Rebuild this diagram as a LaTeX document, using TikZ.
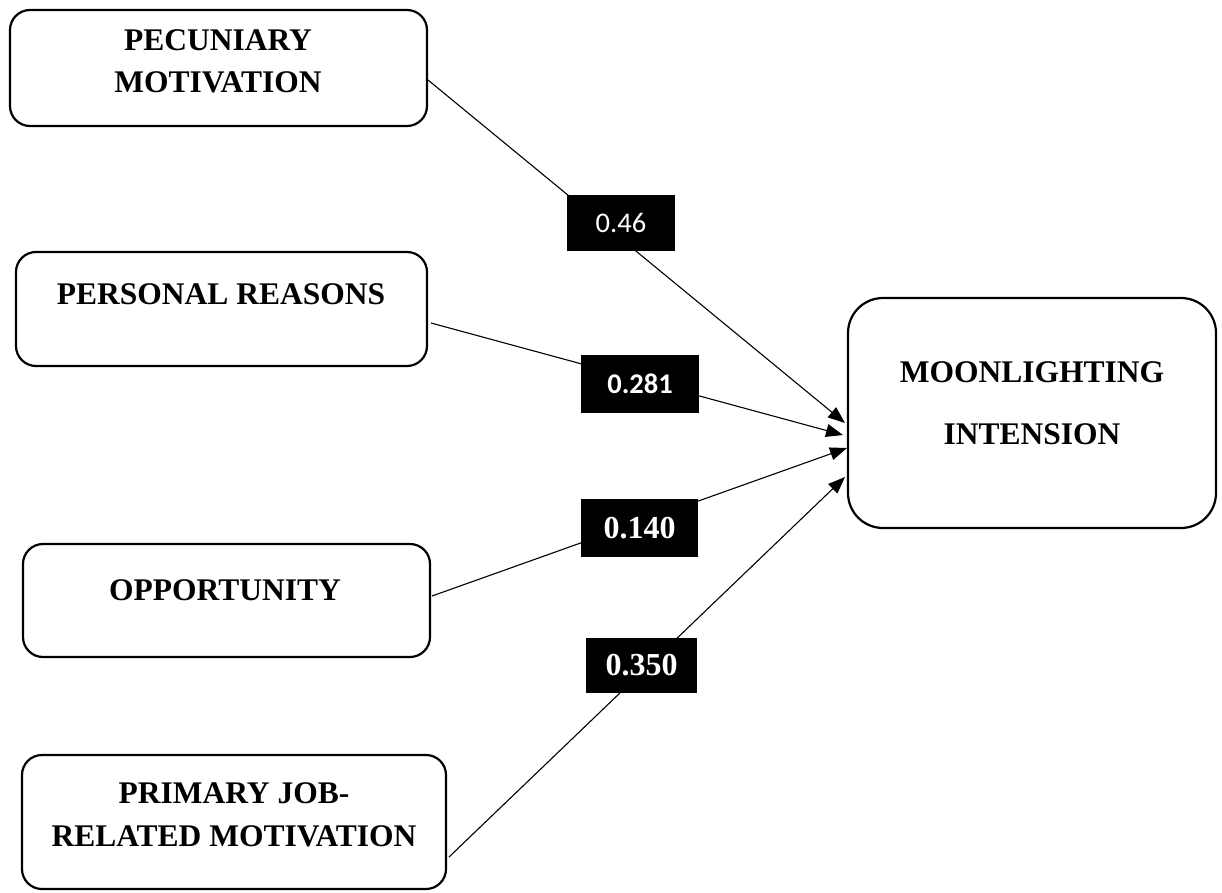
\documentclass[tikz,border=0pt]{standalone}
\usepackage{fontspec}
\setmainfont{Liberation Serif}
\newfontfamily\carl{Carlito}
\usetikzlibrary{arrows.meta}
\begin{document}
\begin{tikzpicture}[x=1pt,y=-1pt,
  box/.style={draw, line width=2.2pt, rounded corners=20pt, inner sep=0pt},
  boxtext/.style={font=\bfseries\fontsize{31.5}{42.5}\selectfont, align=center, inner sep=0pt},
  coef/.style={fill=black, text=white, inner sep=0pt},
  coefsans/.style={coef, font=\carl\fontsize{28.5}{30}\selectfont},
  coefsansb/.style={coef, font=\carl\bfseries\fontsize{28.5}{30}\selectfont},
  coefserif/.style={coef, font=\bfseries\fontsize{32}{34}\selectfont},
  conn/.style={line width=1.1pt, -{Triangle[length=17pt,width=13pt]}}]
\fill[white] (0,0) rectangle (1222,893);
\useasboundingbox (0,0) rectangle (1222,893);

% boxes
\node[box, minimum width=417pt, minimum height=116pt] (b1) at (218.5,68) {};
\node[box, minimum width=411pt, minimum height=114pt] (b2) at (221.5,309) {};
\node[box, minimum width=407pt, minimum height=113pt] (b3) at (226.5,600.5) {};
\node[box, minimum width=424pt, minimum height=134pt] (b4) at (234,822) {};
\node[box, rounded corners=35pt, minimum width=368pt, minimum height=230pt] (b5) at (1032,413) {};

% box texts
\node[boxtext] (x1) at (218,61.25) {PECUNIARY\\MOTIVATION};
\node[boxtext] (x2) at (221,294) {PERSONAL REASONS};
\node[boxtext] (x3) at (225,590) {OPPORTUNITY};
\node[boxtext] (x4) at (234,815) {PRIMARY JOB-\\RELATED MOTIVATION};
\node[boxtext, font=\bfseries\fontsize{31.5}{62}\selectfont] (x5) at (1032,403) {MOONLIGHTING\\INTENSION};

% connector ends
\coordinate (s1) at (428,80);
\coordinate (s2) at (431,323);
\coordinate (s3) at (432,596);
\coordinate (s4) at (449,857);
\coordinate (t1) at (845,423);
\coordinate (t2) at (843,435);
\coordinate (t3) at (847,448);
\coordinate (t4) at (845,477);

\draw[conn] (s1) -- (t1);
\draw[conn] (s2) -- (t2);
\draw[conn] (s3) -- (t3);
\draw[conn] (s4) -- (t4);

% coefficient labels
\node[coefsans, minimum width=108pt, minimum height=56pt] (c1) at (621,223) {0.46};
\node[coefsansb, minimum width=118pt, minimum height=58pt] (c2) at (640,384) {0.281};
\node[coefserif, minimum width=117pt, minimum height=58pt] (c3) at (639.5,528) {0.140};
\node[coefserif, minimum width=111pt, minimum height=55pt] (c4) at (641.5,665.5) {0.350};
\end{tikzpicture}
\end{document}
